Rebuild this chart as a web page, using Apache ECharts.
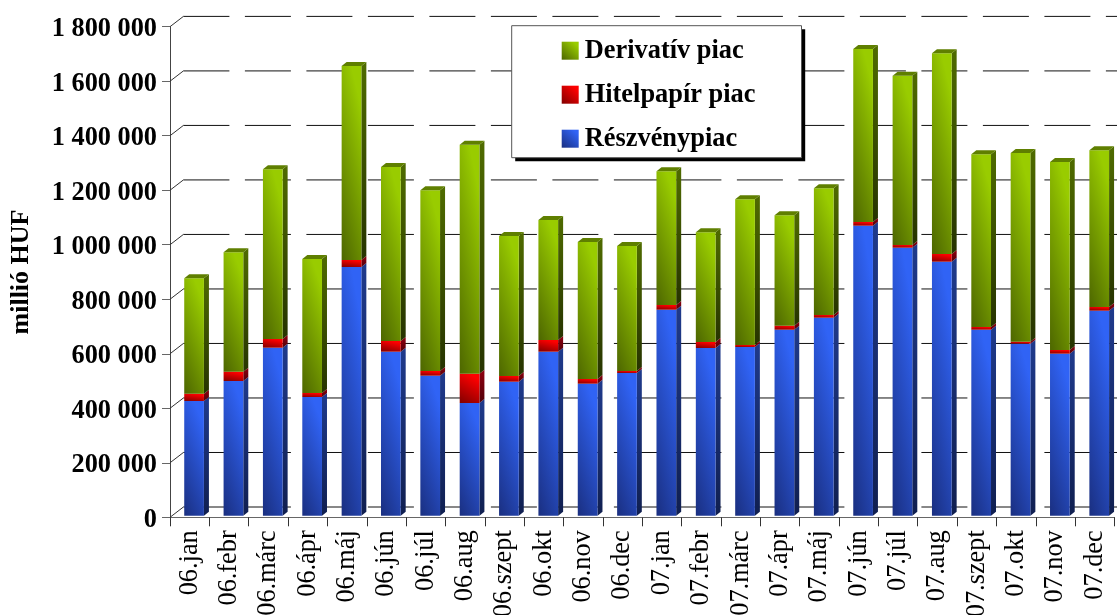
<!DOCTYPE html>
<html>
<head>
<meta charset="utf-8">
<script src="https://cdn.jsdelivr.net/npm/echarts@6/dist/echarts.min.js"></script>
<style>html,body{margin:0;padding:0;background:#fff;overflow:hidden}#c{width:1117px;height:615px}</style>
</head>
<body>
<div id="c"></div>
<script>
const categories = ['06.jan','06.febr','06.márc','06.ápr','06.máj','06.jún','06.júl','06.aug','06.szept','06.okt','06.nov','06.dec','07.jan','07.febr','07.márc','07.ápr','07.máj','07.jún','07.júl','07.aug','07.szept','07.okt','07.nov','07.dec'];
const reszveny = [420800,494200,616400,435500,912500,601700,513700,413500,491600,601700,484300,523600,755800,615300,619000,682400,726500,1064000,983300,931900,682400,631100,594400,752100];
const hitelpapir = [26800,34100,31900,14700,25700,39300,17200,107500,20900,42900,17200,7300,17200,22000,7300,14700,9900,13600,9900,28300,9900,7300,13600,13600];
const derivativ = [423400,438100,622600,491600,711800,638400,663000,840200,513700,440300,502700,458600,490500,402500,534600,405100,464900,634700,621200,736400,633600,692300,689800,574900];
const tickValues = [0,200000,400000,600000,800000,1000000,1200000,1400000,1600000,1800000];

const FONT = '"Liberation Serif","Times New Roman",serif';
const grad = (bright, dark) => new echarts.graphic.LinearGradient(1, 0, 0, 1, [
  {offset: 0, color: bright}, {offset: 0.15, color: bright}, {offset: 1, color: dark}
]);
const vgrad = (a, b) => new echarts.graphic.LinearGradient(0, 0, 0, 1, [
  {offset: 0, color: a}, {offset: 1, color: b}
]);
// gradient whose value runs mostly top to bottom of a face and partly right to left, scaled to the face
function faceGrad(x, y, w, h, bright, dark) {
  const a = 0.3, b = 0.7;
  const gx = -a / w, gy = b / h, n = gx * gx + gy * gy;
  const x0 = x + w, y0 = y;
  return new echarts.graphic.LinearGradient(x0, y0, x0 + gx / n, y0 + gy / n, [
    {offset: 0, color: bright}, {offset: 0.15, color: bright}, {offset: 1, color: dark}
  ], true);
}
const BAR_W = 19.7, DEPTH_X = 5, DEPTH_Y = 4, SHIFT_X = 4.4, SHIFT_Y = -1.6;
const WALL_X = 13.4, WALL_Y = -10.3;

const styles = {
  blue: {front: ['#3063f5', '#1a2f80'], side: ['#1f3a8c', '#101f50']},
  red: {front: ['#ff0000', '#800000'], side: ['#900010', '#500008']},
  green: {front: ['#99cc00', '#4d6600'], side: ['#4f6b00', '#263300'], top: '#5f7f00'}
};

function barRender(st) {
  return function (params, api) {
    const a = api.coord([api.value(0), api.value(1)]);
    const b = api.coord([api.value(0), api.value(2)]);
    const x0 = a[0] + SHIFT_X - BAR_W / 2, x1 = x0 + BAR_W;
    const y0 = a[1] + SHIFT_Y, y1 = b[1] + SHIFT_Y;
    const children = [
      {type: 'polygon', shape: {points: [[x1, y1], [x1 + DEPTH_X, y1 - DEPTH_Y], [x1 + DEPTH_X, y0 - DEPTH_Y], [x1, y0]]},
       style: {fill: vgrad(st.side[0], st.side[1])}},
      {type: 'rect', shape: {x: x0, y: y1, width: BAR_W, height: y0 - y1},
       style: {fill: faceGrad(x0, y1, BAR_W, y0 - y1, st.front[0], st.front[1])}}
    ];
    if (st.top) {
      children.push({type: 'polygon', shape: {points: [[x0, y1], [x0 + DEPTH_X, y1 - DEPTH_Y], [x1 + DEPTH_X, y1 - DEPTH_Y], [x1, y1]]},
        style: {fill: st.top}});
    }
    return {type: 'group', children};
  };
}

function wallRender(params, api) {
  const p = api.coord([0, api.value(0)]);
  const left = params.coordSys.x;
  const y = p[1];
  return {type: 'group', children: [
    {type: 'line', shape: {x1: left, y1: y, x2: left + WALL_X, y2: y + WALL_Y},
     style: {stroke: '#333', lineWidth: 1}},
    {type: 'line', shape: {x1: left + WALL_X, y1: y + WALL_Y, x2: 1120, y2: y + WALL_Y},
     style: {stroke: '#111', lineWidth: 1, lineDash: [46, 15.5]}}
  ]};
}

const base2 = reszveny.map((v, i) => v + hitelpapir[i]);
const top3 = base2.map((v, i) => v + derivativ[i]);

const chart = echarts.init(document.getElementById('c'), null, {renderer: 'canvas'});
chart.setOption({
  animation: false,
  backgroundColor: '#fff',
  grid: {left: 170, top: 26.7, width: 944.5, height: 490.6, containLabel: false, outerBoundsMode: 'none'},
  graphic: [{type: 'rect', z: 5, shape: {x: 515.2, y: 29.2, width: 290, height: 132}, style: {fill: '#000'}}],
  legend: {
    z: 6,
    left: 511.7, top: 25.7, orient: 'vertical', align: 'left',
    padding: [12, 46, 6, 50], itemGap: 18, itemWidth: 17, itemHeight: 18,
    backgroundColor: '#fff', borderColor: '#555', borderWidth: 1,
    selectedMode: false,
    textStyle: {fontFamily: FONT, fontSize: 26.4, fontWeight: 'bold', color: '#000', padding: [2, 0, 0, 1]},
    data: [
      {name: 'Derivatív piac', icon: 'rect', itemStyle: {color: grad(styles.green.front[0], styles.green.front[1])}},
      {name: 'Hitelpapír piac', icon: 'rect', itemStyle: {color: grad(styles.red.front[0], styles.red.front[1])}},
      {name: 'Részvénypiac', icon: 'rect', itemStyle: {color: grad(styles.blue.front[0], styles.blue.front[1])}}
    ]
  },
  xAxis: {
    type: 'category', data: categories, boundaryGap: true,
    axisLine: {lineStyle: {color: '#666', width: 1}},
    axisTick: {show: true, length: 9, alignWithLabel: false, lineStyle: {color: '#333', width: 1}},
    axisLabel: {interval: 0, rotate: 90, margin: 13, fontFamily: FONT, fontSize: 26.3, color: '#000', hideOverlap: false},
    splitLine: {show: false}
  },
  yAxis: {
    type: 'value', min: 0, max: 1800000, interval: 200000,
    name: 'millió HUF', nameLocation: 'middle', nameRotate: 90, nameGap: 136,
    nameTextStyle: {fontFamily: FONT, fontSize: 26, fontWeight: 'bold', color: '#000'},
    axisLine: {show: true, lineStyle: {color: '#444', width: 1}},
    axisTick: {show: true, length: 8, lineStyle: {color: '#666', width: 1}},
    axisLabel: {margin: 13, fontFamily: FONT, fontSize: 26.3, fontWeight: 'bold', color: '#000', verticalAlign: 'top', lineHeight: 5,
      formatter: v => String(v).replace(/\B(?=(\d{3})+$)/g, ' ')},
    splitLine: {show: false}
  },
  series: [
    {type: 'custom', name: 'walls', renderItem: wallRender, data: tickValues.map(v => [v]), encode: {y: 0}, silent: true, z: 1},
    {type: 'custom', name: 'Részvénypiac', renderItem: barRender(styles.blue), z: 2, silent: true,
     data: reszveny.map((v, i) => [i, 0, v]), encode: {x: 0, y: [1, 2]}},
    {type: 'custom', name: 'Hitelpapír piac', renderItem: barRender(styles.red), z: 3, silent: true,
     data: hitelpapir.map((v, i) => [i, reszveny[i], base2[i]]), encode: {x: 0, y: [1, 2]}},
    {type: 'custom', name: 'Derivatív piac', renderItem: barRender(styles.green), z: 4, silent: true,
     data: derivativ.map((v, i) => [i, base2[i], top3[i]]), encode: {x: 0, y: [1, 2]}}
  ]
});
</script>
</body>
</html>
